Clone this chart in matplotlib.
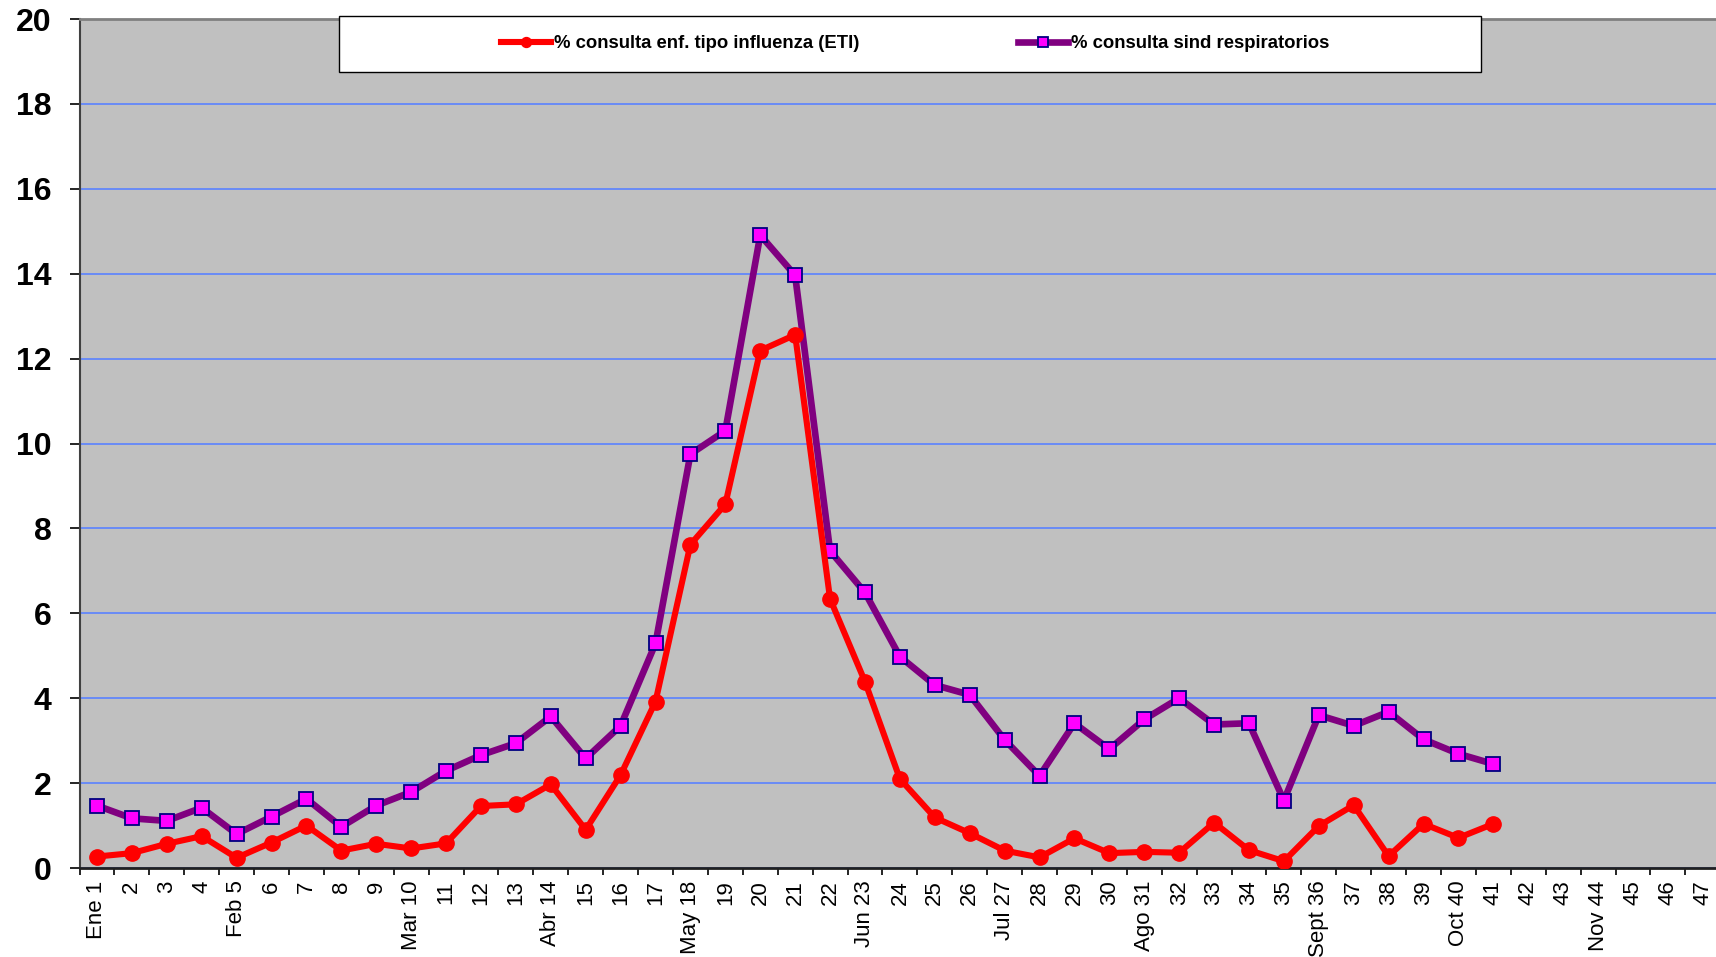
import numpy as np
import matplotlib
matplotlib.use("Agg")
import matplotlib.pyplot as plt
from matplotlib.patches import Rectangle

# semanas epidemiologicas
semanas = ["Ene 1", "2", "3", "4", "Feb 5", "6", "7", "8", "9", "Mar 10",
           "11", "12", "13", "Abr 14", "15", "16", "17", "May 18", "19", "20",
           "21", "22", "Jun 23", "24", "25", "26", "Jul 27", "28", "29", "30",
           "Ago 31", "32", "33", "34", "35", "Sept 36", "37", "38", "39", "Oct 40",
           "41", "42", "43", "Nov 44", "45", "46", "47"]

# % consulta enf. tipo influenza (ETI), semanas 1-41
eti = [0.27, 0.35, 0.57, 0.75, 0.24, 0.60, 1.00, 0.41, 0.57, 0.46,
       0.58, 1.46, 1.50, 1.97, 0.90, 2.19, 3.92, 7.62, 8.57, 12.19,
       12.56, 6.34, 4.39, 2.10, 1.19, 0.82, 0.41, 0.25, 0.70, 0.35,
       0.38, 0.36, 1.07, 0.42, 0.16, 0.99, 1.48, 0.28, 1.04, 0.71, 1.04]

# % consulta sind respiratorios, semanas 1-41
resp = [1.47, 1.17, 1.11, 1.42, 0.80, 1.21, 1.63, 0.97, 1.47, 1.79,
        2.29, 2.66, 2.94, 3.57, 2.58, 3.35, 5.29, 9.75, 10.30, 14.91,
        13.96, 7.47, 6.49, 4.98, 4.31, 4.08, 3.02, 2.17, 3.41, 2.80,
        3.50, 4.00, 3.38, 3.41, 1.59, 3.60, 3.35, 3.68, 3.03, 2.69, 2.45]

lbl_eti = "% consulta enf. tipo influenza (ETI)"
lbl_resp = "% consulta sind respiratorios"

plt.rcParams['font.family'] = ['Liberation Sans', 'DejaVu Sans']

W, H = 1716, 957
fig = plt.figure(figsize=(W / 100, H / 100), dpi=100)
# el area de grafico se sale un poco por la derecha, como en el original
ax = fig.add_axes([79.5 / W, (H - 868) / H, 47 * 34.91 / W, 849 / H])
ax.set_facecolor('#C0C0C0')

x = np.arange(len(semanas))
ax.plot(x[:len(resp)], resp, color='#800080', lw=4.8, marker='s', ms=10.5,
        mfc='#FF00FF', mec='#000080', mew=1.3, label=lbl_resp, zorder=3)
ax.plot(x[:len(eti)], eti, color='#FF0000', lw=4.4, marker='o', ms=11,
        mfc='#FF0000', mec='#FF0000', label=lbl_eti, zorder=4)

ax.set_xlim(-0.5, len(semanas) - 0.5)
ax.set_ylim(0, 20)
ax.set_yticks(np.arange(0, 21, 2))
ax.yaxis.grid(True, color='#5A82FF', lw=1.2)
ax.set_axisbelow(True)
ax.tick_params(axis='y', direction='out', length=7, width=1.2, pad=13,
               labelsize=23)
for t in ax.get_yticklabels():
    t.set_fontweight('bold')

# marcas entre categorias, etiquetas en el centro
ax.set_xticks(np.arange(-0.5, len(semanas), 1.0))
ax.set_xticklabels([])
ax.set_xticks(x, minor=True)
ax.set_xticklabels(semanas, minor=True, rotation=90, fontsize=16)
ax.tick_params(axis='x', which='major', direction='out', length=5, width=1.2)
ax.tick_params(axis='x', which='minor', length=0, pad=9)

ax.spines['top'].set_color('#808080')
ax.spines['top'].set_linewidth(2)
ax.spines['left'].set_color('#404040')
ax.spines['left'].set_linewidth(1.5)
ax.spines['bottom'].set_color('#202020')
ax.spines['bottom'].set_linewidth(2)
ax.spines['right'].set_visible(False)

# caja de la leyenda
box = Rectangle((339 / W, (H - 72) / H), (1481 - 339) / W, 56 / H,
                transform=fig.transFigure, facecolor='white', edgecolor='black',
                lw=1, clip_on=False, zorder=6)
ax.add_artist(box)
h, l = ax.get_legend_handles_labels()
leg = ax.legend(h[::-1], l[::-1], loc='center', ncol=2,
                bbox_to_anchor=(915 / W, (H - 44) / H),
                bbox_transform=fig.transFigure, frameon=False,
                prop={'weight': 'bold', 'size': 13.3},
                handlelength=2.7, handletextpad=0.15, columnspacing=8.6,
                markerscale=0.65)
leg.set_zorder(7)

fig.savefig('out.png', dpi=100)
